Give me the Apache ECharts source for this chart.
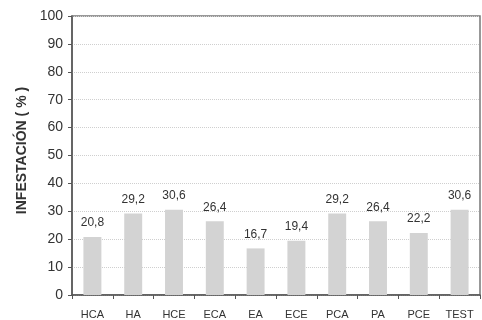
<!DOCTYPE html>
<html><head><meta charset="utf-8">
<script src="https://cdn.jsdelivr.net/npm/echarts@6/dist/echarts.min.js"></script>
<style>html,body{margin:0;padding:0;background:#fff}#c{width:482px;height:320px}</style>
</head><body><div id="c"></div>
<script>
const categories = ['HCA','HA','HCE','ECA','EA','ECE','PCA','PA','PCE','TEST'];
const values = [20.8, 29.2, 30.6, 26.4, 16.7, 19.4, 29.2, 26.4, 22.2, 30.6];
const yTicks = [0,10,20,30,40,50,60,70,80,90,100];
const yName = 'INFESTACIÓN ( % )';

const chart = echarts.init(document.getElementById('c'), null, {renderer:'canvas'});
chart.setOption({
  animation:false,
  grid:{left:72,right:2,top:16,bottom:24,show:true,borderColor:'#777',borderWidth:1.5,backgroundColor:'transparent'},
  xAxis:{type:'category',data:categories,
    axisLine:{lineStyle:{color:'#555',width:1.5}},
    axisTick:{show:true,length:4,lineStyle:{color:'#555'}},
    axisLabel:{color:'#333',fontFamily:'Liberation Sans, Arial',fontSize:11,margin:14}},
  yAxis:{type:'value',min:yTicks[0],max:yTicks[yTicks.length-1],interval:10,
    name:yName,nameLocation:'middle',nameGap:43,nameRotate:90,
    nameTextStyle:{color:'#333',fontFamily:'Liberation Sans, Arial',fontSize:14,fontWeight:'bold',padding:[0,0,0,10]},
    axisLine:{show:true,lineStyle:{color:'#555',width:1.5}},
    axisTick:{show:true,length:4,lineStyle:{color:'#555'}},
    axisLabel:{color:'#333',fontFamily:'Liberation Sans, Arial',fontSize:14,margin:9},
    splitLine:{show:true,lineStyle:{color:'#cfcfcf',type:'dotted',width:1}}},
  series:[{type:'bar',data:values,barWidth:'44%',
    itemStyle:{color:'#d3d3d3'},
    label:{show:true,position:'top',distance:8,color:'#333',fontFamily:'Liberation Sans, Arial',fontSize:12,
      formatter:p=>String(p.value).replace('.',',')}}]
});
</script></body></html>
